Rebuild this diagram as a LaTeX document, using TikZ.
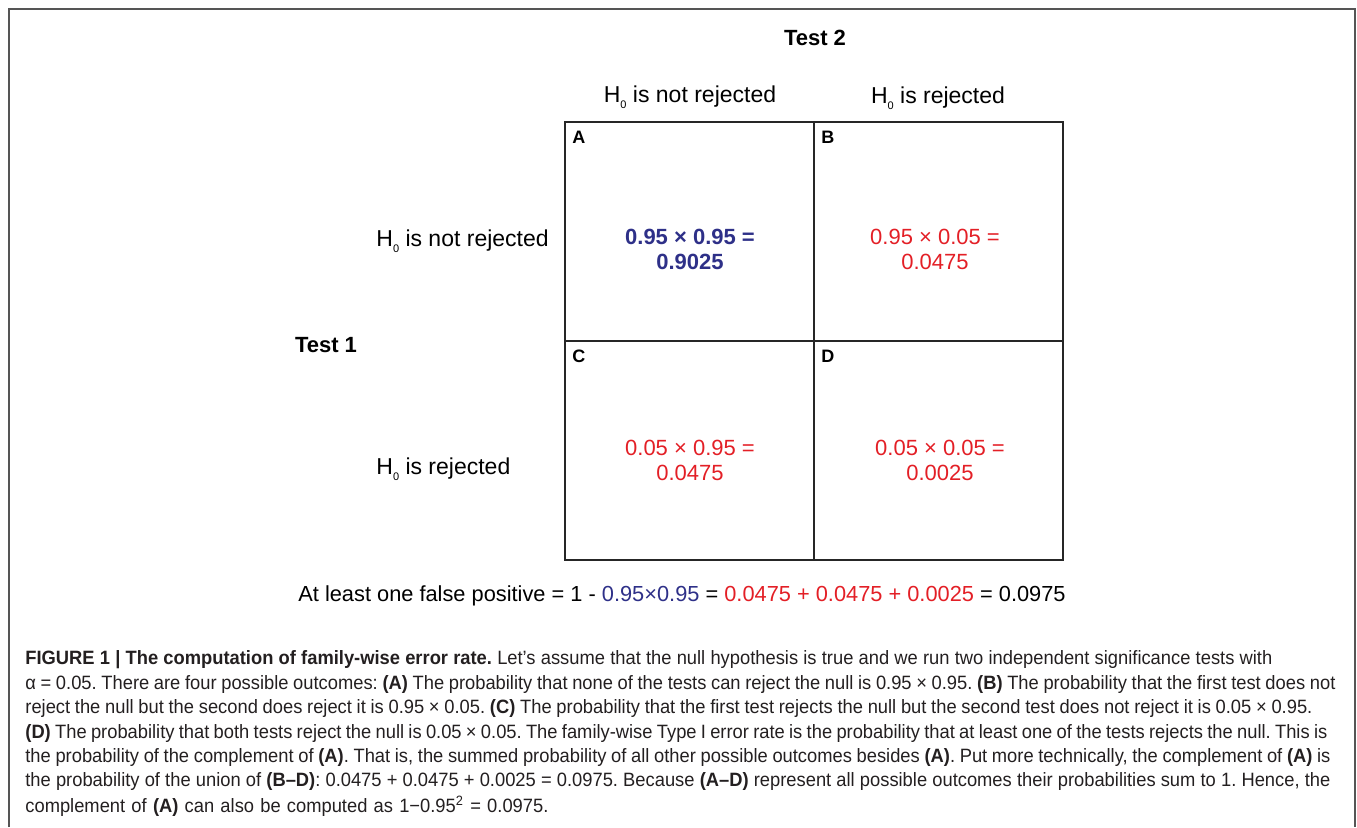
\documentclass[tikz,border=0pt]{standalone}
\usepackage{fontspec}
\setmainfont{Liberation Sans}
\newfontfamily\capfont{Liberation Sans}[FakeStretch=0.95]
\definecolor{cblue}{HTML}{2E3088}
\definecolor{cred}{HTML}{E31F26}
\definecolor{frame}{HTML}{555555}
\definecolor{captxt}{HTML}{231F20}
\newcommand\Hnull{H\raisebox{-0.45ex}{\fontsize{5.5}{6}\selectfont 0}}
\newcommand\capfit[2]{\makebox[#1][s]{#2}}
\tikzset{
  cell/.style={draw=black!85, line width=1pt, minimum width=124.5pt, minimum height=109.5pt, inner sep=0pt},
  celltext/.style={align=center, font=\fontsize{11}{12.5}\selectfont},
  letter/.style={anchor=north west, inner sep=0pt, font=\fontsize{9}{9}\selectfont\bfseries},
  hdr/.style={font=\fontsize{11.5}{12}\selectfont, inner sep=0pt},
  tst/.style={font=\fontsize{11}{12}\selectfont\bfseries, inner sep=0pt},
  capline/.style={anchor=west, inner sep=0pt, text=captxt, font=\capfont\fontsize{9.65}{10}\selectfont},
}
\frenchspacing
\begin{document}
\begin{tikzpicture}[x=0.5pt,y=-0.5pt]
\useasboundingbox (0,0) rectangle (1357,827);
% outer frame
\draw[frame, line width=1pt] (8.5,827) -- (8.5,8.5) -- (1354.5,8.5) -- (1354.5,827);
% grid cells
\node[cell] (A) at (689.5,231.5) {};
\node[cell] (B) at (938.5,231.5) {};
\node[cell] (C) at (689.5,450.5) {};
\node[cell] (D) at (938.5,450.5) {};
\node[letter] (lA) at ([shift={(4pt,-5pt)}]A.north west) {A};
\node[letter] (lB) at ([shift={(4pt,-5pt)}]B.north west) {B};
\node[letter] (lC) at ([shift={(4pt,-5pt)}]C.north west) {C};
\node[letter] (lD) at ([shift={(4pt,-5pt)}]D.north west) {D};
% cell contents
\node[celltext, text=cblue, font=\fontsize{11}{12.5}\selectfont\bfseries] (tA) at (690,249) {0.95 × 0.95 =\\0.9025};
\node[celltext, text=cred] (tB) at (935,249) {0.95 × 0.05 =\\0.0475};
\node[celltext, text=cred] (tC) at (690,460) {0.05 × 0.95 =\\0.0475};
\node[celltext, text=cred] (tD) at (940,460) {0.05 × 0.05 =\\0.0025};
% headers
\node[tst] (t2) at (815,38) {Test 2};
\node[tst] (t1) at (326,345) {Test 1};
\node[hdr] (h1) at (690,97) {\Hnull{} is not rejected};
\node[hdr] (h2) at (938,98) {\Hnull{} is rejected};
\node[hdr, anchor=west] (r1) at (376,241) {\Hnull{} is not rejected};
\node[hdr, anchor=west] (r2) at (376,469) {\Hnull{} is rejected};
% bottom formula
\node[hdr, font=\fontsize{10.9}{12}\selectfont] (sum) at (682,596) {At least one false positive = 1 - \textcolor{cblue}{0.95×0.95} = \textcolor{cred}{0.0475 + 0.0475 + 0.0025} = 0.0975};
% caption
\node[capline] (c1) at (25,660) {\capfit{623.5pt}{\textbf{FIGURE 1 | The computation of family-wise error rate.} Let’s assume that the null hypothesis is true and we run two independent significance tests with}};
\node[capline] (c2) at (25,684) {\capfit{655pt}{α = 0.05. There are four possible outcomes: \textbf{(A)} The probability that none of the tests can reject the null is 0.95 × 0.95. \textbf{(B)} The probability that the first test does not}};
\node[capline] (c3) at (25,708) {\capfit{643.5pt}{reject the null but the second does reject it is 0.95 × 0.05. \textbf{(C)} The probability that the first test rejects the null but the second test does not reject it is 0.05 × 0.95.}};
\node[capline] (c4) at (25,733) {\capfit{651pt}{\textbf{(D)} The probability that both tests reject the null is 0.05 × 0.05. The family-wise Type I error rate is the probability that at least one of the tests rejects the null. This is}};
\node[capline] (c5) at (25,757) {\capfit{652.5pt}{the probability of the complement of \textbf{(A)}. That is, the summed probability of all other possible outcomes besides \textbf{(A)}. Put more technically, the complement of \textbf{(A)} is}};
\node[capline] (c6) at (25,781) {\capfit{652.5pt}{the probability of the union of \textbf{(B–D)}: 0.0475 + 0.0475 + 0.0025 = 0.0975. Because \textbf{(A–D)} represent all possible outcomes their probabilities sum to 1. Hence, the}};
\node[capline] (c7) at (25,806) {\capfit{261.5pt}{complement of \textbf{(A)} can also be computed as 1−0.95\textsuperscript{2} = 0.0975.}};
\end{tikzpicture}
\end{document}
